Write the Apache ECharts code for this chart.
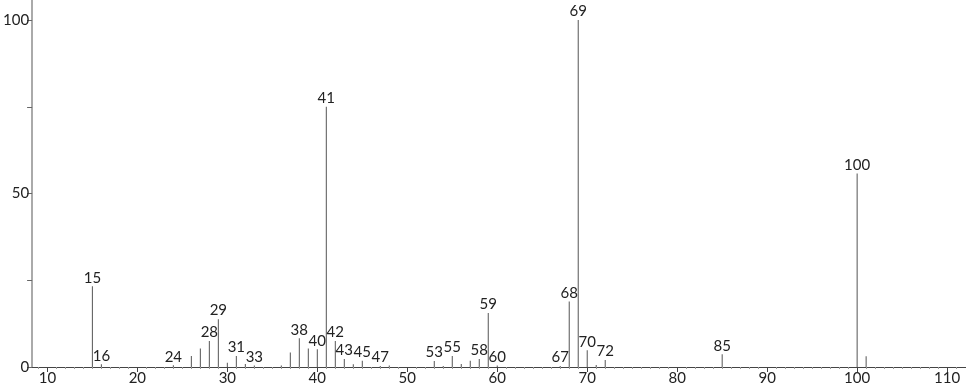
<!DOCTYPE html>
<html>
<head>
<meta charset="utf-8">
<script src="https://cdn.jsdelivr.net/npm/echarts@6/dist/echarts.min.js"></script>
<style>html,body{margin:0;padding:0;background:#fff}#c{width:966px;height:389px}</style>
</head>
<body>
<div id="c"></div>
<script>
const mz = [15,16,24,26,27,28,29,30,31,32,33,36,37,38,39,40,41,42,43,44,45,47,48,53,54,55,56,57,58,59,60,67,68,69,70,71,72,85,100,101];
const intensity = [23.3,0.8,0.5,3.2,5.3,7.5,13.8,1.2,3.2,0.9,0.4,0.4,4.2,8.3,5.3,5.1,75.0,7.5,2.3,0.8,1.8,0.3,0.4,1.7,0.3,3.2,0.9,1.8,2.3,15.6,0.4,0.3,18.9,100,4.8,0.6,2.0,3.7,55.8,3.1];
const labeledPeaks = [15,16,24,28,29,31,33,38,40,41,42,43,45,47,53,55,58,59,60,67,68,69,70,72,85,100];
const xMajorTicks = [10,20,30,40,50,60,70,80,90,100,110];
const xMinorTicks = [];
for (let v = 9; v <= 111; v++) if (v % 10 !== 0) xMinorTicks.push(v);
const yTicks = [0,25,50,75,100];
const yLabels = [0,50,100];

const FONT = 'Lato';
const data = mz.map((m, i) => ({
  value: [m, intensity[i]],
  label: { show: labeledPeaks.includes(m) }
}));

const chart = echarts.init(document.getElementById('c'));
chart.setOption({
  animation: false,
  grid: { left: 29, right: 0, top: 0, bottom: 22 },
  xAxis: [{
    type: 'value', min: 8.3, max: 112.1,
    axisLine: { show: true, lineStyle: { color: '#444', width: 1 } },
    axisTick: { show: true, customValues: xMajorTicks, length: 5, lineStyle: { color: '#444' } },
    axisLabel: { show: true, customValues: xMajorTicks, color: '#222', fontSize: 15, fontFamily: FONT, margin: 4 },
    splitLine: { show: false }
  }, {
    type: 'value', min: 8.3, max: 112.1, position: 'bottom',
    axisLine: { show: false },
    axisTick: { show: true, customValues: xMinorTicks, length: 2, lineStyle: { color: '#999' } },
    axisLabel: { show: false },
    splitLine: { show: false }
  }],
  yAxis: {
    type: 'value', min: 0, max: 105.8,
    axisLine: { show: true, lineStyle: { color: '#aaa', width: 2 } },
    axisTick: { show: true, customValues: yTicks, length: 5, lineStyle: { color: '#666' } },
    axisLabel: { show: true, customValues: yLabels, color: '#222', fontSize: 15, fontFamily: FONT, margin: 3 },
    splitLine: { show: false }
  },
  series: [{
    type: 'bar',
    xAxisIndex: 0,
    barWidth: 1,
    itemStyle: { color: '#555' },
    label: {
      position: 'top', distance: 1, color: '#222', fontSize: 15, fontFamily: FONT,
      formatter: p => String(p.value[0])
    },
    data: data
  }]
});
</script>
</body>
</html>
